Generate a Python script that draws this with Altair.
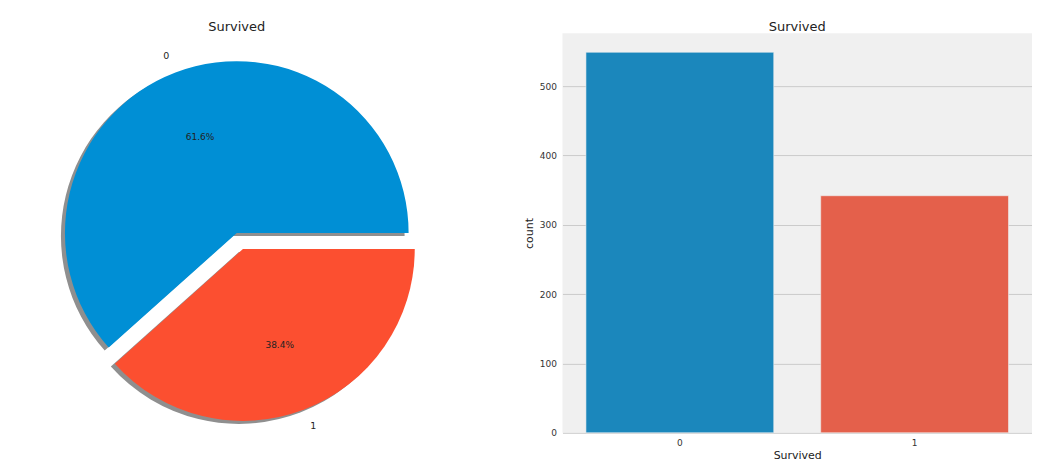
import math
import altair as alt
import pandas as pd

# ---- data ----
categories = ["0", "1"]
counts = [549, 342]
y_ticks = [0, 100, 200, 300, 400, 500]
pie_colors = ["#008fd5", "#fc4f30"]
bar_colors = ["#1b87bc", "#e4604b"]

df = pd.DataFrame({"Survived": categories, "count": counts})

FONT = "DejaVu Sans"
TXT = "#222222"

# ---- pie geometry ----
W, H = 458, 400
R = 172
cx, cy = W / 2, H / 2
frac1 = counts[1] / sum(counts)
mid = math.pi / 2 + math.pi * frac1          # mid angle of slice "1" (clockwise from top)
ex = 0.1 * R
dx, dy = ex * math.sin(mid), -ex * math.cos(mid)
sx, sy = -4, 3                               # shadow offset

theta = alt.Theta("count:Q", stack=True,
                  scale=alt.Scale(range=[math.pi / 2, math.pi / 2 + 2 * math.pi]))
order = alt.Order("Survived:N", sort="descending")
base = alt.Chart(df).encode(theta=theta, order=order)


def only(cat):
    return alt.condition(alt.datum.Survived == cat, alt.value(1), alt.value(0))


centers = {"0": (cx, cy), "1": (cx + dx, cy + dy)}

layers = []
# shadows
for cat in categories:
    px, py = centers[cat]
    layers.append(
        base.mark_arc(outerRadius=R, color="#8f8f8f").encode(
            x=alt.value(px + sx), y=alt.value(py + sy), opacity=only(cat)
        )
    )
# wedges
for cat in categories:
    px, py = centers[cat]
    layers.append(
        base.mark_arc(outerRadius=R).encode(
            x=alt.value(px), y=alt.value(py), opacity=only(cat),
            color=alt.Color("Survived:N",
                            scale=alt.Scale(domain=categories, range=pie_colors),
                            legend=None),
        )
    )
# labels and percentages
for cat, align in zip(categories, ["right", "left"]):
    px, py = centers[cat]
    layers.append(
        base.mark_text(radius=1.1 * R, fontSize=9.5, font=FONT, color=TXT,
                       align=align, baseline="middle").encode(
            x=alt.value(px), y=alt.value(py), opacity=only(cat),
            text="Survived:N",
        )
    )
    layers.append(
        base.transform_joinaggregate(total="sum(count)")
        .transform_calculate(pct="format(datum.count / datum.total, '.1%')")
        .mark_text(radius=0.6 * R, fontSize=9, font=FONT, color=TXT,
                   align="center", baseline="middle")
        .encode(x=alt.value(px), y=alt.value(py), opacity=only(cat), text="pct:N")
    )

title = alt.TitleParams("Survived", fontSize=13, font=FONT, color=TXT,
                        fontWeight="normal", offset=-1)

pie = alt.layer(*layers).properties(
    width=W, height=H, title=title,
    view=alt.ViewBackground(fill="white", stroke=None),
)

# ---- bar chart ----
bars = alt.Chart(df).mark_bar(stroke="#f0f0f0", strokeWidth=0.6).encode(
    x=alt.X("Survived:N",
            scale=alt.Scale(paddingInner=0.2, paddingOuter=0.1),
            axis=alt.Axis(labelAngle=0, grid=False, domain=False, ticks=False,
                          labelFontSize=9, labelFont=FONT, labelColor="#333333",
                          labelPadding=6, titleFontSize=11, titleFont=FONT,
                          titleColor=TXT, titleFontWeight="normal", titlePadding=2)),
    y=alt.Y("count:Q",
            scale=alt.Scale(domain=[0, max(counts) * 1.05], nice=False, zero=True),
            axis=alt.Axis(values=y_ticks, grid=True, gridColor="#cbcbcb", gridWidth=1,
                          domain=False, ticks=False, labelFontSize=9, labelFont=FONT,
                          labelColor="#333333", labelPadding=6, titleFontSize=11,
                          titleFont=FONT, titleColor=TXT, titleFontWeight="normal",
                          titlePadding=5)),
    color=alt.Color("Survived:N",
                    scale=alt.Scale(domain=categories, range=bar_colors), legend=None),
).properties(
    width=470, height=400, title=title,
    view=alt.ViewBackground(fill="#f0f0f0", stroke=None),
)

chart = alt.hconcat(
    pie, bars, spacing=97, bounds="flush",
).resolve_scale(color="independent", theta="independent").properties(
    padding={"left": 0, "top": 13, "right": 0, "bottom": 0}
)

chart.save("out.html", embed_options={"renderer": "svg", "actions": False})
